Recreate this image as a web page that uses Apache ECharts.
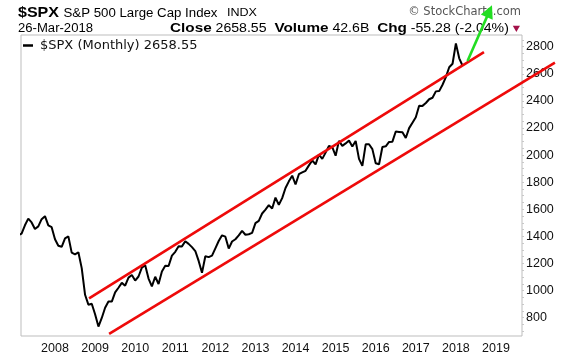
<!DOCTYPE html>
<html>
<head>
<meta charset="utf-8">
<script src="https://cdn.jsdelivr.net/npm/echarts@6/dist/echarts.min.js"></script>
<style>
  html, body { margin: 0; padding: 0; background: #fff; }
  #chart { width: 576px; height: 356px; }
</style>
</head>
<body>
<div id="chart"></div>
<script>
// ---- Data (monthly closes of $SPX, Feb 2007 .. Mar 2018) ----
const startYear = 2007;
const startMonth = 2; // February
const closes = [
  1407, 1421, 1482, 1531, 1503, 1455, 1474, 1527, 1549, 1481, 1468,             // 2007 Feb-Dec
  1379, 1331, 1323, 1386, 1400, 1280, 1267, 1283, 1166, 969, 896, 903,         // 2008
  826, 735, 798, 873, 919, 919, 987, 1021, 1057, 1036, 1096, 1115,             // 2009
  1074, 1104, 1169, 1187, 1089, 1031, 1102, 1049, 1141, 1183, 1181, 1258,      // 2010
  1286, 1327, 1326, 1364, 1345, 1321, 1292, 1219, 1131, 1253, 1247, 1258,      // 2011
  1312, 1366, 1408, 1398, 1310, 1362, 1379, 1407, 1441, 1412, 1416, 1426,      // 2012
  1498, 1515, 1569, 1598, 1631, 1606, 1686, 1633, 1682, 1757, 1806, 1848,      // 2013
  1783, 1859, 1872, 1884, 1924, 1960, 1931, 2003, 1972, 2018, 2068, 2059,      // 2014
  1995, 2105, 2068, 2086, 2107, 2063, 2104, 1972, 1920, 2079, 2080, 2044,      // 2015
  1940, 1932, 2060, 2065, 2097, 2099, 2174, 2171, 2168, 2126, 2199, 2239,      // 2016
  2279, 2364, 2363, 2384, 2412, 2423, 2470, 2472, 2519, 2575, 2648, 2674,      // 2017
  2824, 2714, 2659                                                             // 2018 Jan-Mar
];
// month positions (decimal years) for each close
const months = closes.map((_, i) => {
  const m = startMonth - 1 + i;
  return startYear + Math.floor(m / 12) + (m % 12) / 12;
});

// Trend channel lines and arrow (decimal year, price)
const upperLine = [2008.85, 943, 2018.70, 2759];
const lowerLine = [2009.35, 680, 2020.47, 2682];
const greenArrow = [2018.29, 2694, 2018.90, 3105];

// Tick labels
const yearTicks = [2008, 2009, 2010, 2011, 2012, 2013, 2014, 2015, 2016, 2017, 2018, 2019];
const priceTicks = [800, 1000, 1200, 1400, 1600, 1800, 2000, 2200, 2400, 2600, 2800];
const priceMinorTicks = [];
for (let v = 700; v <= 2850; v += 50) priceMinorTicks.push(v);

const seriesName = '$SPX (Monthly) 2658.55';

// ---- text measurement helper (for fitting header pieces to their width) ----
const mctx = document.createElement('canvas').getContext('2d');
function measure(parts) {
  let w = 0;
  parts.forEach(p => { mctx.font = p.font; w += mctx.measureText(p.text).width; });
  return w;
}
function fitText(text, font, x, y, width, fill, extra) {
  const natural = measure([{ text, font }]);
  return Object.assign({
    type: 'text', x, y, scaleX: width / natural,
    style: { text, font, fill, align: 'left', verticalAlign: 'middle' }
  }, extra || {});
}

const F_BOLD15 = 'bold 15px "Liberation Sans"';
const F12 = '12px "Liberation Sans"';
const F11 = '11px "Liberation Sans"';
const F_BOLD13 = 'bold 13px "Liberation Sans"';

// row 2 rich text
const row2Parts = [
  { text: 'Close', font: F_BOLD13 }, { text: ' 2658.55  ', font: F12 },
  { text: 'Volume', font: F_BOLD13 }, { text: ' 42.6B  ', font: F12 },
  { text: 'Chg', font: F_BOLD13 }, { text: ' -55.28 (-2.04%) ', font: F12 },
  { text: '▼', font: '8px "DejaVu Sans"' }
];
const row2Width = measure(row2Parts);

const chart = echarts.init(document.getElementById('chart'), null, { renderer: 'canvas' });

function lineItem(color, width) {
  return function (params, api) {
    const p1 = api.coord([api.value(0), api.value(1)]);
    const p2 = api.coord([api.value(2), api.value(3)]);
    return {
      type: 'line',
      shape: { x1: p1[0], y1: p1[1], x2: p2[0], y2: p2[1] },
      style: { stroke: color, lineWidth: width, lineCap: 'butt' }
    };
  };
}

function arrowItem(color, width) {
  return function (params, api) {
    const p1 = api.coord([api.value(0), api.value(1)]);
    const p2 = api.coord([api.value(2), api.value(3)]);
    const dx = p2[0] - p1[0], dy = p2[1] - p1[1];
    const len = Math.sqrt(dx * dx + dy * dy);
    const ux = dx / len, uy = dy / len;
    const headLen = 13, headHalf = 6.5;
    const bx = p2[0] - ux * headLen, by = p2[1] - uy * headLen;
    return {
      type: 'group',
      children: [
        { type: 'line', shape: { x1: p1[0], y1: p1[1], x2: bx + ux * 2, y2: by + uy * 2 },
          style: { stroke: color, lineWidth: width } },
        { type: 'polygon', shape: { points: [
            [p2[0], p2[1]],
            [bx - uy * headHalf, by + ux * headHalf],
            [bx + uy * headHalf, by - ux * headHalf]
          ] }, style: { fill: color } }
      ]
    };
  };
}

const option = {
  animation: false,
  backgroundColor: '#fff',
  grid: {
    left: 21, right: 54, top: 35, bottom: 20,
    show: true, borderColor: '#bdbdbd', borderWidth: 1,
    containLabel: false, outerBoundsMode: 'none'
  },
  legend: {
    show: true,
    left: 23, top: 39, padding: 0,
    icon: 'rect', itemWidth: 10, itemHeight: 2.5,
    data: [{ name: seriesName, itemStyle: { color: '#000' } }],
    textStyle: { fontFamily: 'DejaVu Sans', fontSize: 13, color: '#111', padding: [0, 0, 0, 2] },
    selectedMode: false
  },
  xAxis: {
    type: 'value',
    min: 2007.152, max: 2019.649,
    axisLine: { show: false },
    axisTick: { show: false },
    splitLine: { show: false },
    axisLabel: {
      customValues: yearTicks,
      formatter: v => String(Math.round(v)),
      fontFamily: 'Liberation Sans', fontSize: 12.5, color: '#111', margin: 6
    }
  },
  yAxis: {
    type: 'value',
    position: 'right',
    min: 665, max: 2886,
    axisLine: { show: false },
    splitLine: { show: false },
    axisTick: { show: true, customValues: priceMinorTicks, length: 2, inside: false,
      lineStyle: { color: '#c8c8c8', width: 1 } },
    axisLabel: {
      customValues: priceTicks,
      formatter: v => String(Math.round(v)),
      fontFamily: 'Liberation Sans', fontSize: 12.5, color: '#111', margin: 4
    }
  },
  graphic: [
    fitText('$SPX', F_BOLD15, 18, 13, 41, '#000'),
    fitText('S&P 500 Large Cap Index', F12, 63.5, 13.3, 154, '#000'),
    fitText('INDX', F11, 227, 13.3, 30, '#000'),
    fitText('26-Mar-2018', F12, 18, 28.5, 75, '#000'),
    {
      type: 'text', x: 521, y: 12.5,
      style: { text: '© StockCharts.com', font: '11.5px "DejaVu Sans"', fill: '#555',
        align: 'right', verticalAlign: 'middle' }
    },
    {
      type: 'text', x: 170, y: 28.5, scaleX: 350 / row2Width,
      style: {
        text: '{b|Close}{n| 2658.55  }{b|Volume}{n| 42.6B  }{b|Chg}{n| -55.28 (-2.04%) }{t|▼}',
        align: 'left', verticalAlign: 'middle',
        rich: {
          b: { font: F_BOLD13, fill: '#000' },
          n: { font: F12, fill: '#000' },
          t: { font: '8px "DejaVu Sans"', fill: '#a3124a' }
        }
      }
    }
  ],
  series: [
    {
      name: seriesName,
      type: 'line',
      data: months.map((m, i) => [m, closes[i]]),
      showSymbol: false,
      lineStyle: { color: '#000', width: 2 },
      itemStyle: { color: '#000' },
      z: 3
    },
    {
      type: 'custom', clip: false, silent: true, z: 4,
      renderItem: lineItem('#ee0a0a', 2.6),
      encode: { x: [0, 2], y: [1, 3] },
      data: [upperLine, lowerLine]
    },
    {
      type: 'custom', clip: false, silent: true, z: 5,
      renderItem: arrowItem('#22dd22', 2.6),
      encode: { x: [0, 2], y: [1, 3] },
      data: [greenArrow]
    }
  ]
};

chart.setOption(option);
</script>
</body>
</html>
